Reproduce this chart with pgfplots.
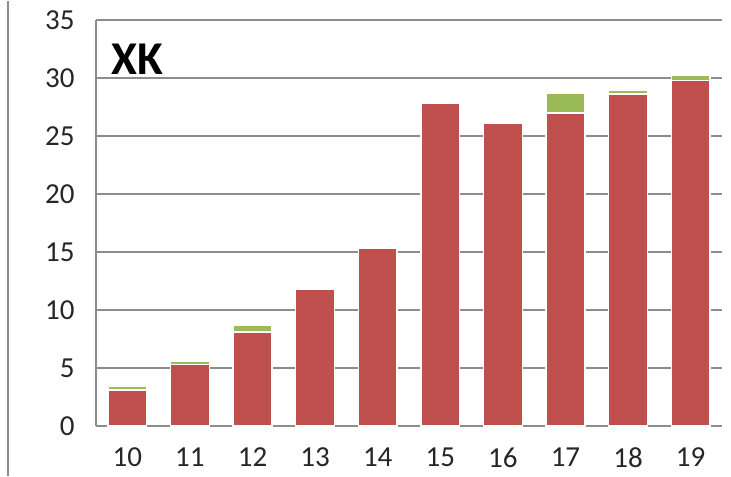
\documentclass[border=0pt]{standalone}
\usepackage{pgfplots}
\pgfplotsset{compat=1.18}
\usepackage{fontspec}
\setmainfont{Carlito}
\definecolor{xkred}{HTML}{C0504D}
\definecolor{xkgreen}{HTML}{9BBB59}
\definecolor{gridgray}{HTML}{8C8C8C}
\begin{document}
\begin{tikzpicture}
\begin{axis}[
  scale only axis,
  width=626bp, height=406bp,
  ybar stacked,
  bar width=0.62,
  xmin=-0.5, xmax=9.5,
  ymin=0, ymax=35,
  ytick={0,5,...,35},
  xtick=data,
  xticklabels={10,11,12,13,14,15,16,17,18,19},
  ymajorgrids=true,
  grid style={gridgray, line width=1.2bp},
  axis x line*=bottom,
  axis y line*=left,
  axis line style={gridgray, line width=1.2bp, -},
  major tick length=0pt,
  tick label style={font=\fontsize{29bp}{33bp}\selectfont, text=black!85},
  /pgf/number format/assume math mode=true,
  yticklabel style={xshift=-18bp},
  xticklabel style={yshift=-18bp},
  clip=false,
]
\addplot[fill=xkred, draw=white, line width=1.5bp] coordinates
  {(0,3.1) (1,5.3) (2,8.1) (3,11.8) (4,15.3) (5,27.8) (6,26.1) (7,27.0) (8,28.6) (9,29.8)};
\addplot[fill=xkgreen, draw=white, line width=1.5bp] coordinates
  {(0,0.3) (1,0.3) (2,0.6) (3,0) (4,0) (5,0) (6,0) (7,1.7) (8,0.3) (9,0.4)};
\node[anchor=west, font=\fontsize{47bp}{50bp}\selectfont\bfseries, inner sep=0pt]
  at (axis description cs:0.025,0.904) {XK};
\draw[gridgray, line width=2bp] (axis description cs:-0.1406,1.0468) -- (axis description cs:-0.1406,-0.1232);
\path (axis description cs:-0.1534,-0.1232) rectangle (axis description cs:1.0144,1.0468);
\end{axis}
\end{tikzpicture}
\end{document}
